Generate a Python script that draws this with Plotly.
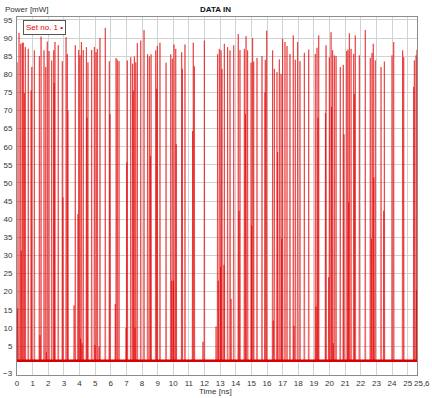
import plotly.graph_objects as go

# Pulse centre times [ns] and peak powers [mW]
pulse_t = [0.00, 0.04, 0.13, 0.24, 0.27, 0.34, 0.40, 0.47, 0.53, 0.72, 0.90, 0.95,
           1.11, 1.43, 1.47, 1.54, 1.73, 1.84, 1.88, 1.94, 2.05, 2.22, 2.35, 2.38,
           2.43, 2.64, 2.90, 2.94, 3.14, 3.22, 3.26, 3.65, 3.73, 3.90, 3.95, 4.03,
           4.07, 4.12, 4.16, 4.24, 4.44, 4.48, 4.54, 4.78, 4.95, 4.99, 5.06, 5.14,
           5.25, 5.31, 5.65, 5.91, 5.95, 6.29, 6.34, 6.42, 6.53, 6.98, 7.02, 7.06,
           7.28, 7.40, 7.44, 7.51, 7.55, 7.60, 7.70, 7.92, 8.13, 8.36, 8.47, 8.54,
           8.58, 8.88, 8.94, 8.98, 9.15, 9.54, 9.84, 9.90, 9.94, 10.01, 10.05, 10.16,
           10.19, 10.54, 10.58, 10.75, 11.24, 11.28, 11.35, 11.90, 11.99, 12.74, 12.84,
           12.88, 12.95, 13.03, 13.06, 13.12, 13.25, 13.27, 13.48, 13.63, 13.70, 13.87,
           14.16, 14.21, 14.27, 14.55, 14.62, 14.66, 14.76, 14.98, 15.02, 15.08, 15.15,
           15.36, 15.68, 15.87, 15.89, 15.98, 16.36, 16.40, 16.47, 16.64, 16.68, 16.79,
           16.90, 16.94, 17.00, 17.15, 17.28, 17.47, 17.68, 17.73, 17.81, 17.96, 18.11,
           18.39, 18.67, 19.09, 19.14, 19.20, 19.26, 19.31, 19.74, 19.78, 19.95, 19.99,
           20.10, 20.13, 20.20, 20.24, 20.31, 20.42, 20.69, 20.88, 20.93, 21.10, 21.18,
           21.23, 21.27, 21.38, 21.55, 21.59, 21.65, 21.91, 22.29, 22.61, 22.68, 22.72,
           22.80, 22.84, 22.93, 23.30, 23.47, 23.51, 24.00, 24.11, 24.68, 24.75, 25.39,
           25.43, 25.54, 25.57, 25.60]
pulse_mw = [83.3, 15.4, 91.4, 88.4, 31.3, 88.7, 88.7, 74.8, 87.5, 87.0, 75.5, 82.0,
            86.6, 85.0, 8.0, 90.4, 86.6, 82.0, 3.3, 89.0, 86.4, 83.8, 86.6, 77.6,
            88.9, 88.0, 83.6, 46.0, 90.2, 85.6, 70.0, 16.2, 88.0, 41.4, 86.7, 85.2,
            7.0, 88.9, 5.8, 86.7, 87.5, 68.0, 83.3, 86.7, 87.5, 5.3, 86.1, 87.0,
            4.9, 90.0, 92.8, 83.6, 69.0, 16.6, 84.5, 84.0, 83.6, 10.0, 55.7, 83.8,
            84.7, 82.9, 75.5, 84.9, 10.0, 83.3, 88.6, 89.3, 92.2, 85.5, 84.9, 57.4,
            85.5, 86.6, 76.0, 87.8, 88.7, 83.2, 85.5, 23.0, 84.3, 23.0, 88.2, 87.0,
            60.7, 86.1, 81.5, 88.2, 64.3, 88.7, 82.2, 6.2, 89.3, 10.4, 85.5,
            23.0, 87.0, 26.9, 86.6, 81.5, 27.4, 88.4, 87.5, 86.6, 18.0, 88.0,
            91.1, 42.3, 86.7, 87.0, 69.0, 90.5, 86.6, 83.2, 38.2, 90.0, 83.5,
            84.5, 85.0, 75.0, 84.0, 92.0, 86.6, 12.0, 81.5, 80.6, 58.5, 84.1,
            80.1, 34.6, 89.8, 88.9, 87.8, 85.6, 90.7, 10.6, 84.0, 88.9, 83.6,
            85.9, 86.8, 85.6, 15.9, 87.3, 68.0, 90.7, 69.3, 88.0, 24.0, 84.7,
            91.6, 71.0, 86.6, 5.8, 85.2, 85.0, 82.0, 82.6, 63.4, 86.4, 86.8,
            44.7, 91.3, 87.0, 85.6, 74.5, 90.7, 85.2, 92.2, 84.5, 34.6, 85.9,
            88.4, 51.5, 83.8, 82.0, 42.3, 83.5, 85.2, 88.9, 86.6, 84.7, 76.5,
            83.8, 85.2, 20.4, 86.7]

baseline_mw = 0.9
t_start, t_end = 0.0, 25.6
y_min, y_max = -3.0, 95.8
half_width_ns = 0.025

x_ticks = list(range(0, 26)) + [25.6]
x_ticktext = [str(v) for v in range(0, 26)] + [""]
x_end_label = "25,6"
y_ticks = list(range(5, 100, 5))
y_ticktext = [str(v) for v in y_ticks]
y_min_label = "−3"

# Build the trace: baseline between pulses, a narrow spike at each pulse
xs, ys = [t_start], [baseline_mw]
for t, p in zip(pulse_t, pulse_mw):
    xs += [t - half_width_ns, t, t + half_width_ns]
    ys += [baseline_mw, p, baseline_mw]
xs.append(t_end)
ys.append(baseline_mw)

fig = go.Figure()
fig.add_trace(go.Scatter(x=[t_start, t_end], y=[baseline_mw, baseline_mw], mode="lines",
                         line=dict(color="#d40000", width=2.5), hoverinfo="skip",
                         showlegend=False))
fig.add_trace(go.Scatter(x=xs, y=ys, mode="lines", name="Set no. 1",
                         line=dict(color="rgba(225,0,0,0.55)", width=1), showlegend=False))

font_family = "Liberation Sans, Arial, sans-serif"
axis_common = dict(showline=True, mirror=True, linecolor="#8c8c8c", linewidth=1,
                   showgrid=True, gridcolor="#d2d2d2", gridwidth=1, zeroline=False,
                   automargin=False, ticks="",
                   tickfont=dict(size=8, color="#333333", family=font_family))

fig.update_layout(
    width=432, height=398,
    margin=dict(l=17, r=15, t=17, b=23, autoexpand=False),
    paper_bgcolor="white", plot_bgcolor="white",
    font=dict(family=font_family, size=8, color="#333333"),
    xaxis=dict(range=[t_start, t_end], tickmode="array", tickvals=x_ticks,
               ticktext=x_ticktext, tickangle=0, **axis_common),
    yaxis=dict(range=[y_min, y_max], tickmode="array", tickvals=y_ticks,
               ticktext=y_ticktext, ticklabelstandoff=2, **axis_common),
    annotations=[
        dict(text="Power [mW]", x=-0.035, y=1.02, xref="paper", yref="paper",
             xanchor="left", yanchor="middle", showarrow=False,
             font=dict(size=8, color="#333333")),
        dict(text="<b>DATA IN</b>", x=0.495, y=1.02, xref="paper", yref="paper",
             xanchor="center", yanchor="middle", showarrow=False,
             font=dict(size=8, color="#111111")),
        dict(text="Time [ns]", x=0.497, y=-0.045, xref="paper", yref="paper",
             xanchor="center", yanchor="middle", showarrow=False,
             font=dict(size=8, color="#333333")),
        dict(text=x_end_label, x=t_end, y=0, xref="x", yref="paper",
             xanchor="left", yanchor="top", xshift=-5, yshift=-2, showarrow=False,
             font=dict(size=8, color="#333333")),
        dict(text=y_min_label, x=-0.005, y=0.005, xref="paper", yref="paper",
             xanchor="right", yanchor="middle", showarrow=False,
             font=dict(size=8, color="#333333", family=font_family)),
        dict(text="Set no. 1 •", x=0.015, y=0.992, xref="paper", yref="paper",
             xanchor="left", yanchor="top", showarrow=False,
             font=dict(size=8, color="#e60000"), bgcolor="white",
             bordercolor="#555555", borderwidth=1, borderpad=2),
    ],
)

fig.write_html("out.html", config={"displayModeBar": False},
               post_script="document.body.style.margin='0';document.body.style.padding='0';")
